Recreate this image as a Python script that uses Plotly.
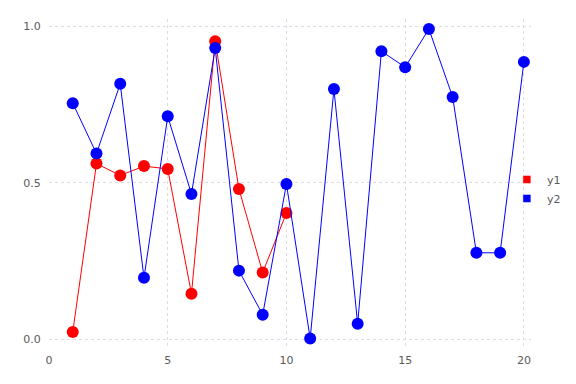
import plotly.graph_objects as go

x1 = list(range(1, 11))
y1 = [0.023, 0.561, 0.523, 0.553, 0.544, 0.145, 0.952, 0.480, 0.213, 0.403]
x2 = list(range(1, 21))
y2 = [0.754, 0.593, 0.816, 0.196, 0.712, 0.464, 0.930, 0.219, 0.078, 0.496,
      0.002, 0.799, 0.049, 0.920, 0.869, 0.991, 0.774, 0.276, 0.276, 0.886]
names = ["y1", "y2"]
colors = ["red", "blue"]
xticks = [0, 5, 10, 15, 20]
yticks = [0.0, 0.5, 1.0]

fig = go.Figure()
for xs, ys, c in [(x1, y1, colors[0]), (x2, y2, colors[1])]:
    fig.add_trace(go.Scatter(x=xs, y=ys, mode="lines+markers",
                             line=dict(color=c, width=1),
                             marker=dict(color=c, size=12),
                             showlegend=False))
for n, c in zip(names, colors):
    fig.add_trace(go.Scatter(x=[None], y=[None], mode="markers", name=n,
                             marker=dict(color=c, symbol="square", size=8,
                                         line=dict(color="rgba(255,255,255,0.5)", width=1))))

grid = dict(showgrid=True, gridcolor="#dcdce6", griddash="dot", gridwidth=1,
            zeroline=False, showline=False,
            tickfont=dict(family="DejaVu Sans", size=11, color="#5a5a5a"))
fig.update_xaxes(range=[0, 20.3], tickvals=xticks,
                 ticks="outside", ticklen=3, tickcolor="rgba(0,0,0,0)", **grid)
fig.update_yaxes(range=[-0.025, 1.023], tickvals=yticks, tickformat=".1f",
                 ticks="outside", ticklen=5, tickcolor="rgba(0,0,0,0)", **grid)
fig.update_layout(width=590, height=384, plot_bgcolor="white", paper_bgcolor="white",
                  margin=dict(l=41, r=67, t=11, b=45),
                  legend=dict(x=0.95, y=0.555, xanchor="left", yanchor="top",
                              font=dict(family="DejaVu Sans", size=11, color="#5a5a5a"),
                              itemwidth=30, tracegroupgap=0, bgcolor="rgba(0,0,0,0)"))
fig.write_html("out.html")
